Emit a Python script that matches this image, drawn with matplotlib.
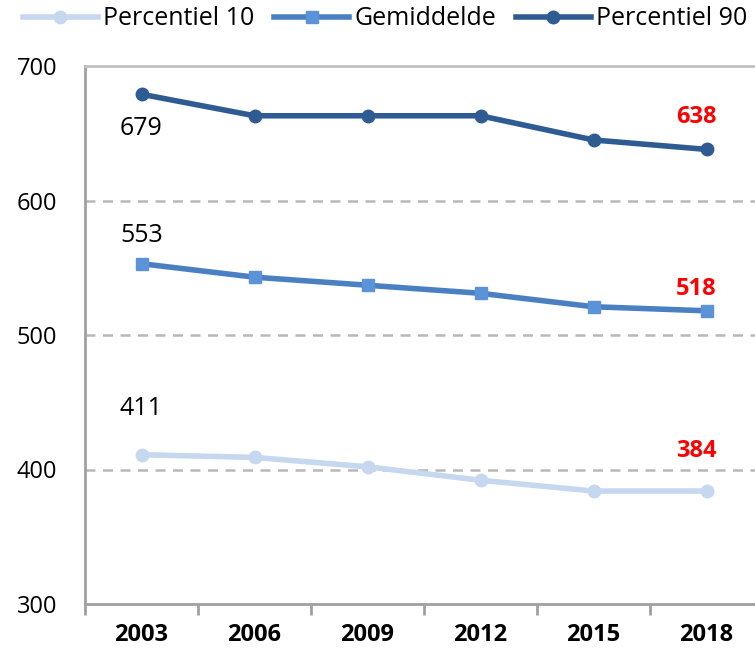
import matplotlib
matplotlib.use("Agg")
import matplotlib.pyplot as plt
import numpy as np

years = ["2003", "2006", "2009", "2012", "2015", "2018"]
p10 = [411, 409, 402, 392, 384, 384]
mean = [553, 543, 537, 531, 521, 518]
p90 = [679, 663, 663, 663, 645, 638]
series_names = ["Percentiel 10", "Gemiddelde", "Percentiel 90"]

plt.rcParams['font.family'] = ['Open Sans', 'DejaVu Sans']

fig = plt.figure(figsize=(7.55, 6.48), dpi=100)
ax = fig.add_axes([85/755, 1-604/648, 1-85/755, (604-66)/648])

x = np.arange(len(years))
c10, cm, c90 = "#c6d8ef", "#4a80c2", "#2f5b93"
l1, = ax.plot(x, p10, color=c10, lw=4, marker='o', ms=9, label=series_names[0])
l2, = ax.plot(x, mean, color=cm, lw=4, marker='s', ms=9, markerfacecolor="#5b93d8", markeredgecolor="#5b93d8", label=series_names[1])
l3, = ax.plot(x, p90, color=c90, lw=4, marker='o', ms=9, label=series_names[2])

ax.set_yticks([300, 400, 500, 600, 700])
ax.set_xticks(x)
ax.set_xticklabels(years, fontsize=17, fontweight='bold')
ax.set_xticks(np.arange(-0.5, 6, 1), minor=True)
ax.set_ylim(300, 700)
ax.set_xlim(-0.5, 5.5 - 8/113)
ax.tick_params(axis='x', which='major', length=0, pad=14)
ax.tick_params(axis='x', which='minor', length=8, width=2, color="#a0a0a0")
ax.tick_params(axis='y', length=0, labelsize=17, pad=20)

for yv in [400, 500, 600]:
    ax.axhline(yv, color="#b8b8b8", lw=1.8, ls=(0, (4, 3)), zorder=0)

for s in ['left', 'bottom', 'top']:
    ax.spines[s].set_color("#a0a0a0")
    ax.spines[s].set_linewidth(2)
ax.spines['top'].set_color("#c0c0c0")
ax.spines['right'].set_visible(False)

# first-year labels
ax.text(0, p90[0] - 16, str(p90[0]), ha='center', va='top', fontsize=18, color='black')
ax.text(0, mean[0] + 12, str(mean[0]), ha='center', va='bottom', fontsize=18, color='black')
ax.text(0, p10[0] + 25, str(p10[0]), ha='center', va='bottom', fontsize=18, color='black')
# last-year labels
for vals, off in [(p90, 15), (mean, 7), (p10, 21)]:
    ax.text(5 - 0.09, vals[-1] + off, str(vals[-1]), ha='center', va='bottom', fontsize=17, color='red', fontweight='bold')

leg = fig.legend(handles=[l1, l2, l3], loc='upper center', bbox_to_anchor=(0.51, 1.025), ncol=3,
                 frameon=False, fontsize=18, handlelength=3.0, handletextpad=0.2, columnspacing=0.8)

fig.savefig("out.png", dpi=100)
